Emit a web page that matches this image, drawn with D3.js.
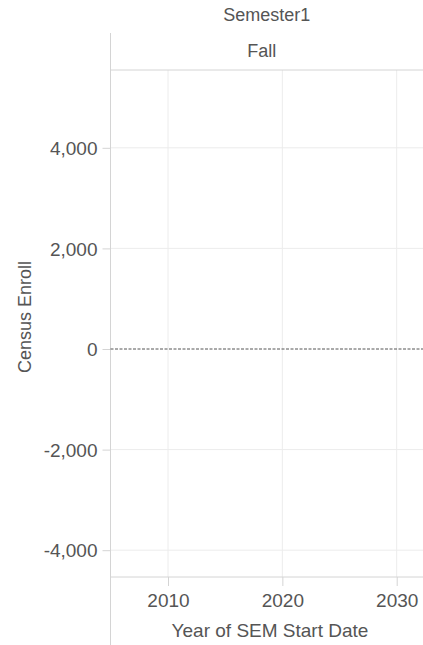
<!DOCTYPE html>
<html>
<head>
<meta charset="utf-8">
<script src="https://cdn.jsdelivr.net/npm/d3@7"></script>
<style>
  body { margin: 0; background: #fff; }
  text { font-family: "Liberation Sans", Arial, sans-serif; fill: #555; }
</style>
</head>
<body>
<script>
// data
var columnHeaders = ["Semester1"];
var rowHeaders = ["Fall"];
var xTicks = [2010, 2020, 2030];
var yTicks = [-4000, -2000, 0, 2000, 4000];
var refLine = [0];
var enrollment = []; // no marks in this view

var width = 423, height = 645;
var plot = {left: 110.5, top: 70, right: 423, bottom: 577};
var fontFam = "'Liberation Sans', Arial, sans-serif";

var svg = d3.select("body").append("svg")
    .attr("width", width)
    .attr("height", height);

// set the ranges
var x = d3.scaleLinear().domain([2004.97, 2032.3]).range([plot.left, plot.right]);
var y = d3.scaleLinear().domain([-4533, 5547]).range([plot.bottom, plot.top]);

// tableau-ish number format with a plain hyphen
var fmt = function(d) { return d3.format(",")(d).replace("\u2212", "-"); };

// grid lines
svg.append("g").selectAll("line")
    .data(xTicks).enter().append("line")
    .attr("x1", function(d) { return x(d); })
    .attr("x2", function(d) { return x(d); })
    .attr("y1", plot.top)
    .attr("y2", plot.bottom)
    .attr("stroke", "#ececec")
    .attr("stroke-width", 1);

svg.append("g").selectAll("line")
    .data(yTicks.filter(function(d) { return d !== 0; })).enter().append("line")
    .attr("x1", plot.left)
    .attr("x2", plot.right)
    .attr("y1", function(d) { return y(d); })
    .attr("y2", function(d) { return y(d); })
    .attr("stroke", "#ececec")
    .attr("stroke-width", 1);

// Y axis
var yAxis = svg.append("g")
    .attr("transform", "translate(" + plot.left + ",0)")
    .call(d3.axisLeft(y).tickValues(yTicks).tickFormat(fmt).tickSize(8).tickPadding(5));
yAxis.select(".domain").remove();
yAxis.selectAll(".tick line").attr("stroke", "#d4d4d4");
yAxis.selectAll(".tick text")
    .style("font-size", "19px")
    .style("font-family", fontFam)
    .attr("fill", "#555")
    .attr("dy", "0.35em");

// X axis
var xAxis = svg.append("g")
    .attr("transform", "translate(0," + plot.bottom + ")")
    .call(d3.axisBottom(x).tickValues(xTicks).tickFormat(d3.format("d")).tickSize(9).tickPadding(8));
xAxis.select(".domain").remove();
xAxis.selectAll(".tick line").attr("stroke", "#d4d4d4");
xAxis.selectAll(".tick text")
    .style("font-size", "19px")
    .style("font-family", fontFam)
    .attr("fill", "#555");

// axis lines and header separators
svg.append("line")
    .attr("x1", plot.left).attr("x2", plot.right)
    .attr("y1", plot.bottom).attr("y2", plot.bottom)
    .attr("stroke", "#d4d4d4");
svg.append("line")
    .attr("x1", plot.left).attr("x2", plot.right)
    .attr("y1", plot.top).attr("y2", plot.top)
    .attr("stroke", "#d4d4d4");
svg.append("line")
    .attr("x1", plot.left).attr("x2", plot.left)
    .attr("y1", 33).attr("y2", height)
    .attr("stroke", "#d4d4d4");

// reference line at zero
svg.append("g").selectAll("line")
    .data(refLine).enter().append("line")
    .attr("x1", plot.left)
    .attr("x2", plot.right)
    .attr("y1", function(d) { return y(d); })
    .attr("y2", function(d) { return y(d); })
    .attr("stroke", "#555")
    .attr("stroke-width", 1)
    .attr("stroke-dasharray", "3,1.5");

// marks (none)
svg.append("g").selectAll("circle")
    .data(enrollment).enter().append("circle")
    .attr("cx", function(d) { return x(d.year); })
    .attr("cy", function(d) { return y(d.value); })
    .attr("r", 3);

// headers
var midX = (plot.left + plot.right) / 2;
svg.append("text")
    .attr("x", midX)
    .attr("y", 21)
    .attr("text-anchor", "middle")
    .style("font-size", "18px")
    .style("font-family", fontFam)
    .text(columnHeaders[0]);

svg.append("text")
    .attr("x", midX - 5)
    .attr("y", 57)
    .attr("text-anchor", "middle")
    .style("font-size", "18px")
    .style("font-family", fontFam)
    .text(rowHeaders[0]);

// axis titles
svg.append("text")
    .attr("x", 270)
    .attr("y", 637)
    .attr("text-anchor", "middle")
    .style("font-size", "19px")
    .style("font-family", fontFam)
    .text("Year of SEM Start Date");

svg.append("text")
    .attr("transform", "translate(31," + (y(0) - 32) + ") rotate(-90)")
    .attr("text-anchor", "middle")
    .style("font-size", "18px")
    .style("font-family", fontFam)
    .text("Census Enroll");
</script>
</body>
</html>
